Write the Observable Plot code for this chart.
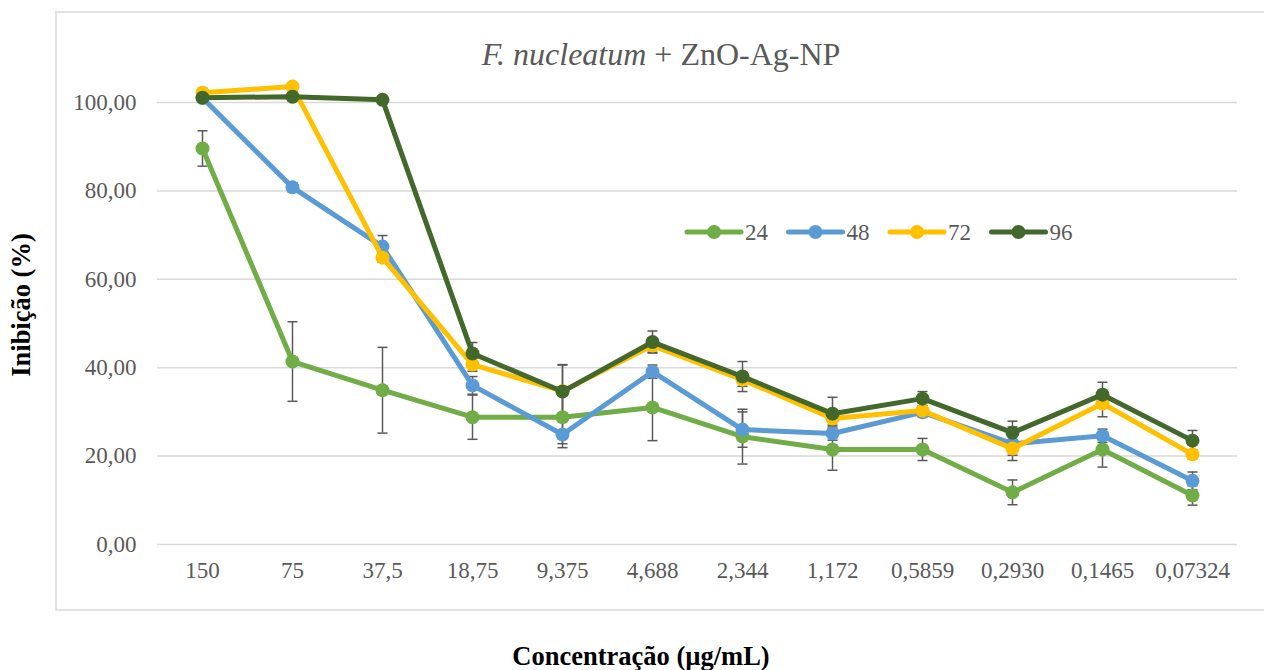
<!DOCTYPE html>
<html><head><meta charset="utf-8">
<script src="https://cdn.jsdelivr.net/npm/d3@7"></script>
<script src="https://cdn.jsdelivr.net/npm/@observablehq/plot@0.6"></script>
<style>body{margin:0;background:#fff}</style>
</head><body><div id="chart"></div>
<script>
const concentrations = ["150","75","37,5","18,75","9,375","4,688","2,344","1,172","0,5859","0,2930","0,1465","0,07324"];
const seriesNames = ["24","48","72","96"];
const seriesColors = ["#70AD47","#5B9BD5","#FFC000","#43682B"];
const values24 = [89.6, 41.4, 34.9, 28.8, 28.8, 31.0, 24.4, 21.5, 21.5, 11.8, 21.5, 11.1];
const err24    = [4.0, 9.0, 9.7, 5.0, 6.0, 7.5, 6.2, 4.7, 2.5, 2.8, 4.0, 2.2];
const values48 = [101.0, 80.8, 67.4, 36.0, 24.9, 39.1, 26.0, 25.1, 29.9, 22.8, 24.6, 14.4];
const err48    = [1.0, 1.0, 2.5, 2.0, 3.0, 1.5, 4.0, 1.5, 1.0, 3.8, 1.5, 2.0];
const values72 = [102.2, 103.6, 64.9, 40.7, 34.7, 45.0, 37.3, 28.5, 30.3, 21.7, 31.9, 20.4];
const err72    = [1.0, 0.8, 1.0, 1.5, 6.0, 1.5, 1.5, 1.5, 1.0, 1.5, 3.0, 1.0];
const values96 = [101.1, 101.3, 100.6, 43.2, 34.6, 45.8, 38.0, 29.6, 33.0, 25.3, 33.9, 23.5];
const err96    = [0.8, 0.8, 0.8, 2.5, 6.0, 2.5, 3.4, 3.7, 1.6, 2.6, 2.8, 2.3];
const yTicks = [0, 20, 40, 60, 80, 100];

const seriesValues = [values24, values48, values72, values96];
const seriesErrors = [err24, err48, err72, err96];
const rows = seriesNames.flatMap((s, si) => concentrations.map((c, i) => ({
  series: s, conc: c, value: seriesValues[si][i], err: seriesErrors[si][i]
})));

const fmt = v => v.toFixed(2).replace(".", ",");
const FONT = "'Liberation Serif', 'Times New Roman', serif";

// horizontal cap symbol for error bars
const capSymbol = {draw(ctx) { ctx.moveTo(-5, 0); ctx.lineTo(5, 0); }};

function decorations() {
  const g = d3.create("svg:g").style("font-family", FONT);
  g.append("rect").attr("x", 56).attr("y", 12).attr("width", 1230).attr("height", 598)
    .attr("fill", "none").attr("stroke", "#D9D9D9").attr("stroke-width", 1.5);
  const t = g.append("text").attr("x", 661).attr("y", 65).attr("text-anchor", "middle")
    .style("font-size", "32px").style("font-family", FONT).attr("fill", "#595959");
  t.append("tspan").style("font-style", "italic").text("F. nucleatum");
  t.append("tspan").text(" + ZnO-Ag-NP");
  seriesNames.forEach((s, i) => {
    const x0 = 687 + i * 101.5;
    const lg = g.append("g");
    lg.append("line").attr("x1", x0).attr("x2", x0 + 54).attr("y1", 232).attr("y2", 232)
      .attr("stroke", seriesColors[i]).attr("stroke-width", 5).attr("stroke-linecap", "round");
    lg.append("circle").attr("cx", x0 + 27).attr("cy", 232).attr("r", 7).attr("fill", seriesColors[i]);
    lg.append("text").attr("x", x0 + 58).attr("y", 232).attr("dy", "0.35em").attr("text-anchor", "start")
      .style("font-size", "23px").attr("fill", "#595959").text(s);
  });
  g.append("text").attr("transform", "translate(30,305) rotate(-90)").attr("text-anchor", "middle")
    .style("font-size", "26.5px").style("font-weight", "bold").attr("fill", "#000")
    .text("Inibição (%)");
  g.append("text").attr("x", 641).attr("y", 665).attr("text-anchor", "middle")
    .style("font-size", "26.5px").style("font-weight", "bold").attr("fill", "#000")
    .text("Concentração (µg/mL)");
  return g.node();
}

const seriesMarks = seriesNames.flatMap((s, i) => {
  const data = rows.filter(d => d.series === s);
  return [
    Plot.line(data, {x: "conc", y: "value", stroke: seriesColors[i], strokeWidth: 5, strokeLinejoin: "round", strokeLinecap: "round"}),
    Plot.dot(data, {x: "conc", y: "value", r: 7, fill: seriesColors[i], stroke: "none"})
  ];
});

const chart = Plot.plot({
  width: 1264, height: 670,
  marginLeft: 157, marginRight: 27, marginTop: 102, marginBottom: 126,
  style: {fontFamily: FONT, background: "#fff", overflow: "visible"},
  x: {type: "point", domain: concentrations, padding: 0.5},
  y: {domain: [0, 100]},
  marks: [
    Plot.ruleY(yTicks, {stroke: "#D9D9D9", strokeWidth: 1.5}),
    Plot.axisY({ticks: yTicks, tickFormat: fmt, tickSize: 0, tickPadding: 21, fontSize: 23, color: "#595959", label: null}),
    Plot.axisX({tickSize: 0, tickPadding: 17, fontSize: 23, color: "#595959", label: null}),
    Plot.ruleX(rows, {x: "conc", y1: d => d.value - d.err, y2: d => d.value + d.err, stroke: "#595959", strokeWidth: 1.5}),
    Plot.dot(rows, {x: "conc", y: d => d.value + d.err, symbol: capSymbol, fill: "none", stroke: "#595959", strokeWidth: 1.5}),
    Plot.dot(rows, {x: "conc", y: d => d.value - d.err, symbol: capSymbol, fill: "none", stroke: "#595959", strokeWidth: 1.5}),
    ...seriesMarks,
    decorations
  ]
});
document.getElementById("chart").appendChild(chart);
</script>
</body></html>
